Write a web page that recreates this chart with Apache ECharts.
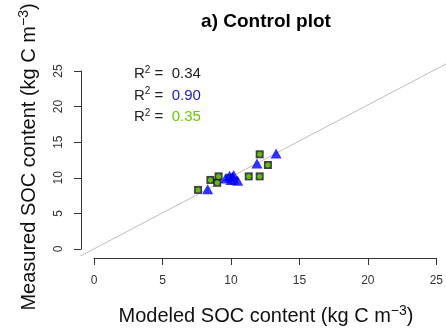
<!DOCTYPE html>
<html>
<head>
<meta charset="utf-8">
<script src="https://cdn.jsdelivr.net/npm/echarts@6/dist/echarts.min.js"></script>
<style>
html,body{margin:0;padding:0;background:#fff;}
#c{width:446px;height:331px;}
</style>
</head>
<body>
<div id="c"></div>
<script>
// Data
var xTicks = [0, 5, 10, 15, 20, 25];
var yTicks = [0, 5, 10, 15, 20, 25];
var oneToOne = [[-1, -1], [26, 26]];
var blueTriangles = [
  [8.3, 8.4], [9.6, 9.9], [9.9, 10.3], [10.1, 10.1], [10.2, 10.4],
  [10.5, 9.6], [10.0, 9.7], [11.9, 12.0], [13.3, 13.4]
];
var greenSquares = [
  [7.6, 8.3], [8.5, 9.7], [9.0, 9.3], [9.1, 10.2], [9.9, 10.0],
  [10.2, 9.6], [11.3, 10.2], [12.1, 10.2], [12.1, 13.3], [12.7, 11.8]
];
var r2Labels = ['0.34', '0.90', '0.35'];
var r2Colors = ['#222222', '#1a1acc', '#66cc00'];

var chart = echarts.init(document.getElementById('c'), null, {renderer: 'canvas'});
var font = 'Liberation Sans, Arial, Helvetica, sans-serif';
var axisColor = '#333';

// pixel scale: 25 units span 343 px horizontally, 178 px vertically
var pxX = 343 / 25, pxY = 178 / 25;

var r2Graphics = r2Labels.map(function (v, i) {
  return {
    type: 'text',
    left: 134,
    top: 65 + i * 21.5,
    style: {
      text: '{r|R}{s|2}{r| =  }{v|' + v + '}',
      rich: {
        r: {fontSize: 15, fontFamily: font, fill: '#222', lineHeight: 18},
        s: {fontSize: 10, fontFamily: font, fill: '#222', lineHeight: 18, verticalAlign: 'top'},
        v: {fontSize: 15, fontFamily: font, fill: r2Colors[i], lineHeight: 18}
      }
    }
  };
});

var option = {
  backgroundColor: '#fff',
  animation: false,
  grid: [
    {left: 94, width: 343, top: 71, height: 178, containLabel: false},
    {left: 94 - pxX, width: 27 * pxX, top: 71 - pxY, height: 27 * pxY, containLabel: false}
  ],
  xAxis: [{
    type: 'value', gridIndex: 0, min: xTicks[0], max: xTicks[xTicks.length - 1], interval: 5,
    offset: 9,
    axisLine: {show: true, onZero: false, lineStyle: {color: axisColor, width: 1}},
    axisTick: {show: true, length: 7, lineStyle: {color: axisColor, width: 1}},
    axisLabel: {color: '#333', fontSize: 12, fontFamily: font, margin: 17},
    splitLine: {show: false}
  }, {
    type: 'value', gridIndex: 1, min: -1, max: 26, show: false, splitLine: {show: false}
  }],
  yAxis: [{
    type: 'value', gridIndex: 0, min: yTicks[0], max: yTicks[yTicks.length - 1], interval: 5,
    offset: 13,
    axisLine: {show: true, onZero: false, lineStyle: {color: axisColor, width: 1}},
    axisTick: {show: true, length: 7, lineStyle: {color: axisColor, width: 1}},
    axisLabel: {color: '#333', fontSize: 12, fontFamily: font, margin: 16, rotate: 90},
    splitLine: {show: false}
  }, {
    type: 'value', gridIndex: 1, min: -1, max: 26, show: false, splitLine: {show: false}
  }],
  series: [
    {
      type: 'line', xAxisIndex: 1, yAxisIndex: 1, data: oneToOne, symbol: 'none',
      silent: true, lineStyle: {color: '#bdbdbd', width: 1}, z: 1
    },
    {
      type: 'scatter', data: greenSquares, symbol: 'rect', symbolSize: 8,
      itemStyle: {color: '#111'}, z: 2
    },
    {
      type: 'scatter', data: greenSquares, symbol: 'circle', symbolSize: 5,
      itemStyle: {color: '#66dd00'}, z: 3
    },
    {
      type: 'scatter', data: blueTriangles, symbol: 'triangle', symbolSize: [11, 10],
      itemStyle: {color: '#0000ff'}, z: 4
    }
  ],
  graphic: [
    {
      type: 'text', x: 266, y: 22,
      style: {text: 'a) Control plot', font: 'bold 19px ' + font, fill: '#000',
               textAlign: 'center', textVerticalAlign: 'middle'}
    },
    {
      type: 'text', x: 266, y: 316,
      style: {
        text: '{a|Modeled SOC content (kg C m}{s|\u22123}{a|)}',
        textAlign: 'center', textVerticalAlign: 'middle',
        rich: {
          a: {fontSize: 20, fontFamily: font, fill: '#111', lineHeight: 23},
          s: {fontSize: 14, fontFamily: font, fill: '#111', lineHeight: 23, verticalAlign: 'top'}
        }
      }
    },
    {
      type: 'text', x: 29, y: 157, rotation: Math.PI / 2,
      style: {
        text: '{a|Measured SOC content (kg C m}{s|\u22123}{a|)}',
        textAlign: 'center', textVerticalAlign: 'middle',
        rich: {
          a: {fontSize: 20, fontFamily: font, fill: '#111', lineHeight: 23},
          s: {fontSize: 14, fontFamily: font, fill: '#111', lineHeight: 23, verticalAlign: 'top'}
        }
      }
    }
  ].concat(r2Graphics)
};
chart.setOption(option);
</script>
</body>
</html>
